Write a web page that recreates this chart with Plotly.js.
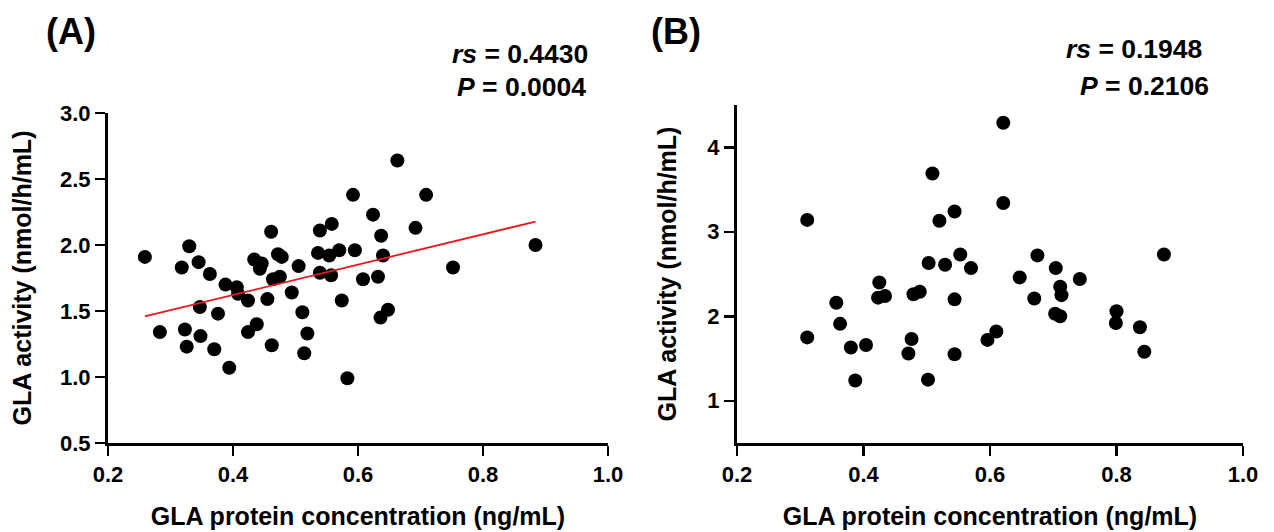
<!DOCTYPE html>
<html>
<head>
<meta charset="utf-8">
<script src="https://cdn.plot.ly/plotly-3.0.1.min.js"></script>
<style>
html,body{margin:0;padding:0;background:#fff;}
#chart{width:1274px;height:532px;}
</style>
</head>
<body>
<div id="chart"></div>
<script>
// Panel A data: GLA protein concentration (ng/mL) vs GLA activity (nmol/h/mL)
const proteinA = [0.259,0.283,0.318,0.330,0.323,0.326,0.345,0.347,0.348,0.363,
  0.370,0.376,0.388,0.394,0.406,0.408,0.424,0.424,0.434,0.446,
  0.443,0.438,0.455,0.461,0.462,0.464,0.472,0.478,0.475,0.494,
  0.505,0.511,0.519,0.514,0.536,0.539,0.539,0.554,0.558,0.557,
  0.570,0.574,0.583,0.592,0.595,0.608,0.624,0.632,0.637,0.640,
  0.636,0.648,0.663,0.692,0.709,0.752,0.884];
const activityA = [1.91,1.34,1.83,1.99,1.36,1.23,1.87,1.53,1.31,1.78,
  1.21,1.48,1.70,1.07,1.68,1.63,1.58,1.34,1.89,1.86,
  1.82,1.40,1.59,2.10,1.24,1.74,1.93,1.91,1.76,1.64,
  1.84,1.49,1.33,1.18,1.94,2.11,1.79,1.92,2.16,1.77,
  1.96,1.58,0.99,2.38,1.96,1.74,2.23,1.76,2.07,1.92,
  1.45,1.51,2.64,2.13,2.38,1.83,2.00];

// Panel B data
const proteinB = [0.311,0.311,0.357,0.363,0.380,0.387,0.404,0.425,0.423,0.434,
  0.471,0.476,0.479,0.489,0.502,0.503,0.509,0.520,0.529,0.544,
  0.544,0.544,0.553,0.570,0.596,0.610,0.621,0.621,0.647,0.670,
  0.675,0.703,0.711,0.704,0.711,0.713,0.742,0.800,0.799,0.837,
  0.844,0.875];
const activityB = [3.14,1.75,2.16,1.91,1.63,1.24,1.66,2.40,2.22,2.24,
  1.56,1.73,2.26,2.29,1.25,2.63,3.69,3.13,2.61,3.24,
  2.20,1.55,2.73,2.57,1.72,1.82,4.29,3.34,2.46,2.21,
  2.72,2.03,2.00,2.57,2.35,2.25,2.44,2.06,1.92,1.87,
  1.58,2.73];

const statsA = {rs: '0.4430', p: '0.0004'};
const statsB = {rs: '0.1948', p: '0.2106'};
const ticksAx = [0.2,0.4,0.6,0.8,1.0];
const ticksAy = [0.5,1.0,1.5,2.0,2.5,3.0];
const ticksBy = [1,2,3,4];

// least-squares fit line for panel A
function fit(x, y){
  const n = x.length;
  const mx = x.reduce((a,b)=>a+b,0)/n, my = y.reduce((a,b)=>a+b,0)/n;
  let sxy=0, sxx=0;
  for(let i=0;i<n;i++){sxy+=(x[i]-mx)*(y[i]-my); sxx+=(x[i]-mx)**2;}
  const b = sxy/sxx, a = my - b*mx;
  const x0 = Math.min(...x), x1 = Math.max(...x);
  return {x:[x0,x1], y:[a+b*x0, a+b*x1]};
}
const lineA = fit(proteinA, activityA);

const FONT = 'Liberation Sans, Arial, sans-serif';
const marker = {color:'#000', size:14, line:{width:0}};

const traces = [
  {x:proteinA, y:activityA, type:'scatter', mode:'markers', marker:marker, xaxis:'x', yaxis:'y', hoverinfo:'x+y'},
  {x:lineA.x, y:lineA.y, type:'scatter', mode:'lines', line:{color:'#e8191e', width:1.8}, xaxis:'x', yaxis:'y'},
  {x:proteinB, y:activityB, type:'scatter', mode:'markers', marker:marker, xaxis:'x2', yaxis:'y2', hoverinfo:'x+y'}
];

const W = 1274, H = 532;
function axisCommon(){
  return {
    showgrid:false, zeroline:false, showline:true, linecolor:'#000', linewidth:3,
    ticks:'outside', ticklen:10, tickwidth:2.5, tickcolor:'#000',
    tickfont:{family:FONT, size:22, color:'#000', weight:'bold'},
    automargin:false, fixedrange:true
  };
}
const xTitle = 'GLA protein concentration (ng/mL)';
const yTitle = 'GLA activity (nmol/h/mL)';
const titleFont = {family:FONT, size:25, color:'#000', weight:'bold'};

const layout = {
  width:W, height:H, showlegend:false,
  paper_bgcolor:'#fff', plot_bgcolor:'#fff',
  margin:{l:0,r:0,t:0,b:0},
  font:{family:FONT, color:'#000'},
  xaxis:Object.assign(axisCommon(), {
    domain:[108/W, 608/W], range:[0.2,1.0], tickvals:ticksAx, tickformat:'.1f', anchor:'y',
    title:{text:xTitle, font:titleFont, standoff:22}
  }),
  yaxis:Object.assign(axisCommon(), {
    domain:[(H-443)/H, (H-113)/H], range:[0.5,3.0], tickvals:ticksAy, tickformat:'.1f', anchor:'x',
    title:{text:yTitle, font:titleFont, standoff:22}
  }),
  xaxis2:Object.assign(axisCommon(), {
    domain:[737/W, 1243/W], range:[0.2,1.0], tickvals:ticksAx, tickformat:'.1f', anchor:'y2',
    title:{text:xTitle, font:titleFont, standoff:22}
  }),
  yaxis2:Object.assign(axisCommon(), {
    domain:[(H-443)/H, (H-105)/H], range:[0.5,4.5], tickvals:ticksBy, tickformat:'d', anchor:'x2',
    title:{text:yTitle, font:titleFont, standoff:24}
  }),
  annotations:[
    {text:'<b>(A)</b>', xref:'paper', yref:'paper', x:71/W, y:1-31/H, xanchor:'center', yanchor:'middle', showarrow:false, font:{family:FONT, size:36, color:'#000'}},
    {text:'<b>(B)</b>', xref:'paper', yref:'paper', x:676/W, y:1-31/H, xanchor:'center', yanchor:'middle', showarrow:false, font:{family:FONT, size:36, color:'#000'}},
    {text:'<b><i>rs</i> = '+statsA.rs+'</b>', xref:'paper', yref:'paper', x:520/W, y:1-54/H, xanchor:'center', yanchor:'middle', showarrow:false, font:{family:FONT, size:26.5, color:'#000'}},
    {text:'<b><i>P</i> = '+statsA.p+'</b>', xref:'paper', yref:'paper', x:521/W, y:1-87/H, xanchor:'center', yanchor:'middle', showarrow:false, font:{family:FONT, size:26.5, color:'#000'}},
    {text:'<b><i>rs</i> = '+statsB.rs+'</b>', xref:'paper', yref:'paper', x:1134/W, y:1-49/H, xanchor:'center', yanchor:'middle', showarrow:false, font:{family:FONT, size:26.5, color:'#000'}},
    {text:'<b><i>P</i> = '+statsB.p+'</b>', xref:'paper', yref:'paper', x:1144/W, y:1-86/H, xanchor:'center', yanchor:'middle', showarrow:false, font:{family:FONT, size:26.5, color:'#000'}}
  ]
};

Plotly.newPlot('chart', traces, layout, {displayModeBar:false, staticPlot:true});
</script>
</body>
</html>
